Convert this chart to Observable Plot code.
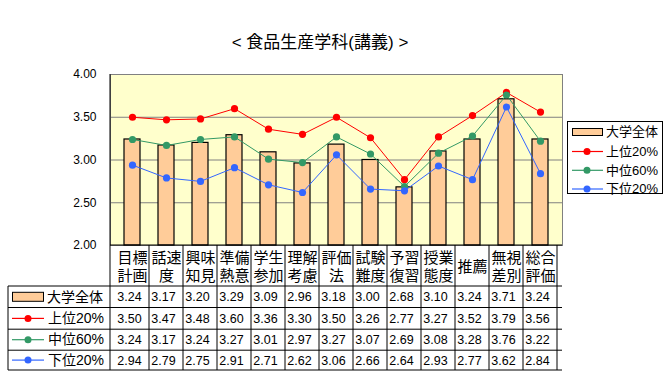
<!DOCTYPE html>
<html>
<head>
<meta charset="utf-8">
<script src="https://cdn.jsdelivr.net/npm/d3@7"></script>
<script src="https://cdn.jsdelivr.net/npm/@observablehq/plot@0.6"></script>
<style>
  html, body { margin: 0; padding: 0; background: white; }
  #chart { width: 669px; height: 381px; }
</style>
</head>
<body>
<div id="chart"></div>
<script>
const title = "< 食品生産学科(講義) >";
const categories = ["目標\n計画", "話速\n度", "興味\n知見", "準備\n熱意", "学生\n参加", "理解\n考慮", "評価\n法", "試験\n難度", "予習\n復習", "授業\n態度", "推薦", "無視\n差別", "総合\n評価"];
const overall = [3.24, 3.17, 3.20, 3.29, 3.09, 2.96, 3.18, 3.00, 2.68, 3.10, 3.24, 3.71, 3.24];
const top20 = [3.50, 3.47, 3.48, 3.60, 3.36, 3.30, 3.50, 3.26, 2.77, 3.27, 3.52, 3.79, 3.56];
const mid60 = [3.24, 3.17, 3.24, 3.27, 3.01, 2.97, 3.27, 3.07, 2.69, 3.08, 3.28, 3.76, 3.22];
const bottom20 = [2.94, 2.79, 2.75, 2.91, 2.71, 2.62, 3.06, 2.66, 2.64, 2.93, 2.77, 3.62, 2.84];
const seriesNames = ["大学全体", "上位20%", "中位60%", "下位20%"];
const legendNames = ["大学全体", "上位20%", "中位60%", "下位20%"];
const yTicks = [2.0, 2.5, 3.0, 3.5, 4.0];

const colors = ["#FFCC99", "#FF0000", "#339966", "#3366FF"];

const rows = categories.map((c, i) => ({c, overall: overall[i], top: top20[i], mid: mid60[i], bot: bottom20[i]}));
const lineSeries = [
  {key: "top", color: colors[1]},
  {key: "mid", color: colors[2]},
  {key: "bot", color: colors[3]}
];

// table row offsets (pixels below the y=2.00 baseline)
const labelRowCenter = 20.5;
const rowLines = [41, 62.5, 84.2, 105.2, 125];
const rowCenters = [51.8, 73.4, 94.7, 115.1];
const tableLeft = 8;

function decorations(index, scales, values, dims) {
  const x = scales.x, y = scales.y;
  const bw = x.bandwidth ? x.bandwidth() : (dims.width - dims.marginLeft - dims.marginRight) / categories.length;
  const left = dims.marginLeft, right = dims.width - dims.marginRight;
  const base = y(2);
  const g = d3.create("svg:g").attr("text-anchor", "start");
  // title
  g.append("text").attr("x", 320).attr("y", 44).attr("text-anchor", "middle")
    .attr("dominant-baseline", "middle").attr("font-size", 17).text(title);
  // axis lines
  g.append("line").attr("x1", left).attr("x2", left).attr("y1", y(4)).attr("y2", base + rowLines[4]).attr("stroke", "black");
  g.append("line").attr("x1", left).attr("x2", right).attr("y1", base).attr("y2", base).attr("stroke", "black");
  // column separators in label/table area
  categories.forEach(c => {
    const xx = x(c) + bw;
    g.append("line").attr("x1", xx).attr("x2", xx).attr("y1", base).attr("y2", base + rowLines[4]).attr("stroke", "black");
  });
  // table horizontal lines
  rowLines.forEach(o => {
    g.append("line").attr("x1", tableLeft).attr("x2", right).attr("y1", base + o).attr("y2", base + o).attr("stroke", "black");
  });
  g.append("line").attr("x1", tableLeft).attr("x2", tableLeft).attr("y1", base + rowLines[0]).attr("y2", base + rowLines[4]).attr("stroke", "black");
  // table row headers
  seriesNames.forEach((name, i) => {
    const cy = base + rowCenters[i];
    if (i === 0) {
      g.append("rect").attr("x", 12.5).attr("y", cy - 4.5).attr("width", 31).attr("height", 9)
        .attr("fill", colors[0]).attr("stroke", "black");
    } else {
      g.append("line").attr("x1", 12).attr("x2", 44).attr("y1", cy).attr("y2", cy).attr("stroke", colors[i]).attr("stroke-width", 1.2);
      g.append("circle").attr("cx", 28).attr("cy", cy).attr("r", 3.5).attr("fill", colors[i]);
    }
    g.append("text").attr("x", i === 0 ? 47 : 48).attr("y", cy + 1).attr("dominant-baseline", "middle")
      .attr("text-anchor", "start").attr("font-size", 14).text(name);
  });
  // legend box
  const lx = 567, ly = 121, lw = 95, lh = 72;
  g.append("rect").attr("x", lx + 0.5).attr("y", ly + 0.5).attr("width", lw).attr("height", lh)
    .attr("fill", "white").attr("stroke", "black");
  const legendY = [132, 151.5, 170.3, 189];
  legendNames.forEach((name, i) => {
    const cy = legendY[i];
    if (i === 0) {
      g.append("rect").attr("x", 572.5).attr("y", cy - 3.5).attr("width", 30).attr("height", 7)
        .attr("fill", colors[0]).attr("stroke", "black");
    } else {
      g.append("line").attr("x1", 572).attr("x2", 603).attr("y1", cy).attr("y2", cy).attr("stroke", colors[i]).attr("stroke-width", 1.2);
      g.append("circle").attr("cx", 587).attr("cy", cy).attr("r", 3.5).attr("fill", colors[i]);
    }
    g.append("text").attr("x", 606).attr("y", cy + 1).attr("dominant-baseline", "middle")
      .attr("text-anchor", "start").attr("font-size", 13).text(name);
  });
  return g.node();
}

const marks = [
  Plot.frame({fill: "#FFFFCC", stroke: "#808080"}),
  Plot.ruleY(yTicks.slice(1), {stroke: "#808080", strokeWidth: 1}),
  Plot.barY(rows, {x: "c", y1: 2, y2: "overall", fill: colors[0], stroke: "black", strokeWidth: 1.2, insetLeft: 9, insetRight: 9})
];
lineSeries.forEach(s => {
  marks.push(Plot.line(rows, {x: "c", y: s.key, stroke: s.color, strokeWidth: 1}));
  marks.push(Plot.dot(rows, {x: "c", y: s.key, fill: s.color, r: 3.6}));
});
// category labels
marks.push(Plot.text(rows, {x: "c", y: () => 2, text: "c", dy: labelRowCenter, fontSize: 15, lineHeight: 1.2, fill: "black"}));
// table values
const valueKeys = ["overall", "top", "mid", "bot"];
valueKeys.forEach((k, i) => {
  marks.push(Plot.text(rows, {x: "c", y: () => 2, text: d => d[k].toFixed(2), dy: rowCenters[i], dx: -15.2, textAnchor: "start", fontSize: 12.5, fill: "black"}));
});
marks.push(decorations);

const chart = Plot.plot({
  width: 669,
  height: 381,
  marginLeft: 110,
  marginRight: 107,
  marginTop: 74,
  marginBottom: 136,
  style: {fontFamily: "'Liberation Sans', 'Noto Sans CJK JP', sans-serif", fontSize: "12px", background: "white", color: "black"},
  x: {domain: categories, padding: 0, axis: null},
  y: {domain: [2, 4], ticks: yTicks, tickFormat: d => d.toFixed(2), tickSize: 0, tickPadding: 14, label: null},
  marks
});
document.getElementById("chart").appendChild(chart);
</script>
</body>
</html>
